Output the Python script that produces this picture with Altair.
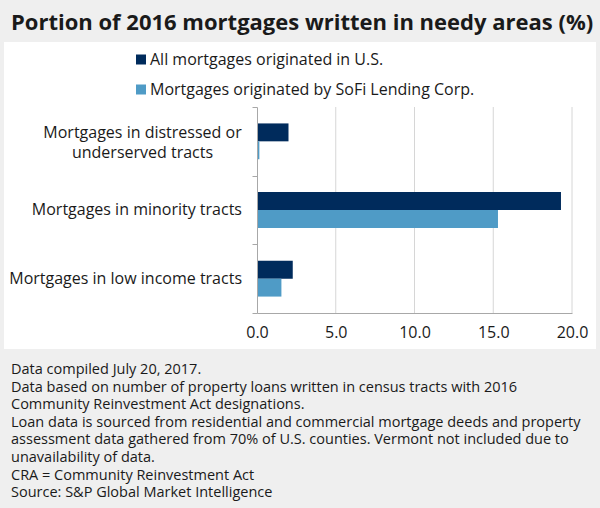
import altair as alt
import pandas as pd

# ---- data ----
categories = [
    "Mortgages in distressed or underserved tracts",
    "Mortgages in minority tracts",
    "Mortgages in low income tracts",
]
display_labels = [
    "Mortgages in distressed or|underserved tracts",
    "Mortgages in minority tracts",
    "Mortgages in low income tracts",
]
series = ["All mortgages originated in U.S.", "Mortgages originated by SoFi Lending Corp."]
us_values = [2.0, 19.3, 2.27]
sofi_values = [0.15, 15.3, 1.55]
x_ticks = [0, 5, 10, 15, 20]
grid_values = [5, 10, 15, 20]

title_text = "Portion of 2016 mortgages written in needy areas (%)"
footer_lines = [
    "Data compiled July 20, 2017.",
    "Data based on number of property loans written in census tracts with 2016",
    "Community Reinvestment Act designations.",
    "Loan data is sourced from residential and commercial mortgage deeds and property",
    "assessment data gathered from 70% of U.S. counties. Vermont not included due to",
    "unavailability of data.",
    "CRA = Community Reinvestment Act",
    "Source: S&P Global Market Intelligence",
]

rows = []
for c, u, s in zip(categories, us_values, sofi_values):
    rows.append({"category": c, "series": series[0], "value": u})
    rows.append({"category": c, "series": series[1], "value": s})
df = pd.DataFrame(rows)
labels_df = pd.DataFrame({"category": categories, "label": display_labels})
grid_df = pd.DataFrame({"value": grid_values})
one = pd.DataFrame({"k": [0]})

FONT = "Open Sans"
DARK = "#002b5c"
LIGHT = "#4f9bc6"
TXT = "#1a1a1a"

W, H = 315, 206
L, T = 257, 107

x_scale = alt.Scale(domain=[0, 20], nice=False, zero=True)
x_axis = alt.Axis(
    title=None, values=x_ticks, format=".1f", grid=False, ticks=False,
    domainColor="#a8a8a8", labelFont=FONT, labelFontSize=16,
    labelColor=TXT, labelPadding=11, labelFlush=False, zindex=1,
)
y_scale = alt.Scale(domain=categories, paddingInner=0, paddingOuter=0)
y_axis = alt.Axis(
    title=None, tickBand="extent", grid=False, domainColor="#a8a8a8",
    tickColor="#a8a8a8", tickSize=5, labels=False, zindex=1,
)

panel = alt.Chart(one).mark_rect(color="white").encode(
    x=alt.value(4 - L), x2=alt.value(596 - L),
    y=alt.value(42 - T), y2=alt.value(349 - T),
)

grid = alt.Chart(grid_df).mark_rule(color="#d6d6d6", strokeWidth=1).encode(
    x=alt.X("value:Q", scale=x_scale, axis=x_axis),
    y=alt.value(0), y2=alt.value(H),
)

bars = alt.Chart(df).mark_bar().encode(
    x=alt.X("value:Q", scale=x_scale, axis=x_axis),
    y=alt.Y("category:N", sort=categories, scale=y_scale, axis=y_axis),
    yOffset=alt.YOffset(
        "series:N", sort=series,
        scale=alt.Scale(paddingInner=0, paddingOuter=0.917),
    ),
    color=alt.Color(
        "series:N", sort=series,
        scale=alt.Scale(domain=series, range=[DARK, LIGHT]),
        legend=alt.Legend(
            title=None, orient="none", legendX=-124, legendY=-55.5,
            direction="vertical", symbolType="square", symbolSize=100,
            symbolStrokeWidth=0, labelFont=FONT, labelFontSize=16,
            labelColor=TXT, rowPadding=14, labelOffset=1, labelLimit=400,
        ),
    ),
)

ylab_single = alt.Chart(labels_df).transform_filter(
    "indexof(datum.label, '|') < 0"
).mark_text(
    font=FONT, fontSize=16, color=TXT, align="right", baseline="middle",
).encode(
    y=alt.Y("category:N", sort=categories, scale=y_scale, axis=y_axis),
    x=alt.value(-15),
    text="label:N",
)

ylab_multi = alt.Chart(labels_df).transform_filter(
    "indexof(datum.label, '|') >= 0"
).mark_text(
    font=FONT, fontSize=16, color=TXT, align="center", baseline="middle",
    lineBreak="|", lineHeight=20, dy=-8,
).encode(
    y=alt.Y("category:N", sort=categories, scale=y_scale, axis=y_axis),
    x=alt.value(142.5 - L),
    text="label:N",
)

title = alt.Chart(one).mark_text(
    text=title_text, font=FONT, fontSize=22, fontWeight="bold",
    color=TXT, align="left", baseline="alphabetic",
).encode(x=alt.value(11 - L), y=alt.value(29.5 - T))

footer = alt.Chart(one).mark_text(
    text=footer_lines, font=FONT, fontSize=14.5, color=TXT,
    align="left", baseline="alphabetic", lineHeight=17.6,
).encode(x=alt.value(11 - L), y=alt.value(374 - T))

chart = alt.layer(panel, grid, bars, ylab_single, ylab_multi, title, footer).properties(
    width=W, height=H,
    autosize=alt.AutoSizeParams(type="none"),
    padding={"left": L, "top": T, "right": 600 - L - W, "bottom": 508 - T - H},
    background="#efefef",
).configure_view(stroke=None)

chart.save("out.html", embed_options={"renderer": "svg", "actions": False})
